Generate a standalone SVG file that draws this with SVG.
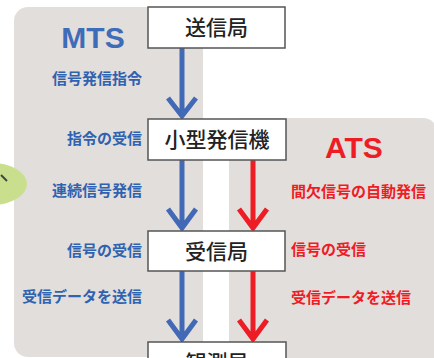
<svg xmlns="http://www.w3.org/2000/svg" width="434" height="358" viewBox="0 0 434 358">
<style>
.panel{fill:#e2dedc}
.box{fill:#fff;stroke:#555;stroke-width:1.5}
.bt{font-family:"Noto Sans CJK JP","Noto Sans",sans-serif;font-size:21px;font-weight:500;fill:#222;text-anchor:middle}
.lb{font-family:"Noto Sans CJK JP","Noto Sans",sans-serif;font-size:15px;font-weight:bold}
.blue{fill:#2f62b0}
.red{fill:#ee1c25}
.ttl{font-family:"Liberation Sans",Arial,sans-serif;font-size:30px;font-weight:bold;text-anchor:middle}
.ab{fill:none;stroke:#4169b5;stroke-width:5}
.ar{fill:none;stroke:#ee1c25;stroke-width:5}
</style>
<rect width="434" height="358" fill="#fff"/>
<g id="panel-mts">
<rect class="panel" x="14" y="7" width="189" height="350" rx="14"/>
<text class="ttl" x="93" y="48" fill="#3d6cb8">MTS</text>
</g>
<g id="panel-ats">
<rect class="panel" x="229" y="118" width="208" height="260" rx="14"/>
<text class="ttl" x="354" y="158" fill="#ee1c25">ATS</text>
</g>
<g id="green-blob">
<ellipse cx="-8" cy="184" rx="35" ry="21" fill="#c9df8e"/>
<line x1="1" y1="175" x2="7" y2="181" stroke="#444" stroke-width="2"/>
</g>
<g id="labels">
<text class="lb blue" x="142" y="84" text-anchor="end">信号発信指令</text>
<text class="lb blue" x="142" y="144" text-anchor="end">指令の受信</text>
<text class="lb blue" x="142" y="196" text-anchor="end">連続信号発信</text>
<text class="lb blue" x="142" y="256" text-anchor="end">信号の受信</text>
<text class="lb blue" x="142" y="302" text-anchor="end">受信データを送信</text>
<text class="lb red" x="291" y="197">間欠信号の自動発信</text>
<text class="lb red" x="291" y="255">信号の受信</text>
<text class="lb red" x="291" y="303">受信データを送信</text>
</g>
<g id="connectors">
<path class="ab" d="M182 48 V115 M168 98 L182 116 L196 98"/>
<path class="ab" d="M182 160 V226 M168 209 L182 228 L196 209"/>
<path class="ab" d="M182 271 V337 M168 320 L182 339 L196 320"/>
<path class="ar" d="M253 160 V226 M239 209 L253 228 L267 209"/>
<path class="ar" d="M253 271 V337 M239 320 L253 339 L267 320"/>
</g>
<g id="node-soushin">
<rect class="box" x="148" y="7" width="137" height="41"/>
<text class="bt" x="216.5" y="35">送信局</text>
</g>
<g id="node-kogata">
<rect class="box" x="148" y="119" width="138" height="41"/>
<text class="bt" x="217" y="147">小型発信機</text>
</g>
<g id="node-jushin">
<rect class="box" x="148" y="231" width="137" height="40"/>
<text class="bt" x="216.5" y="259">受信局</text>
</g>
<g id="node-kansoku">
<rect class="box" x="148" y="342" width="138" height="40"/>
<text class="bt" x="217" y="370">観測局</text>
</g>
</svg>
